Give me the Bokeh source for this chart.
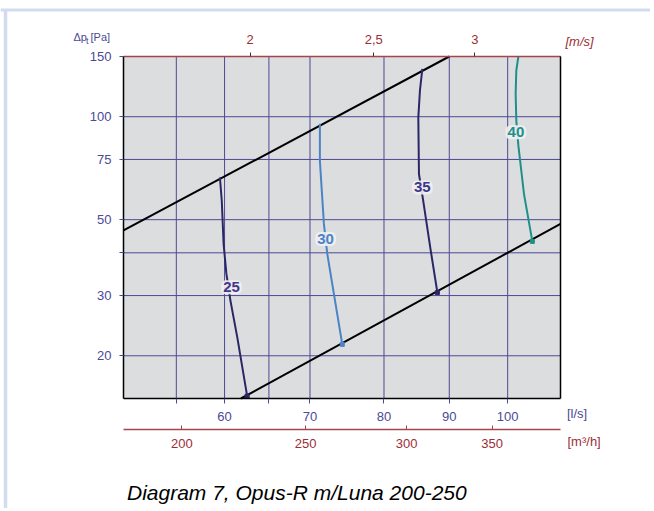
import math
from bokeh.plotting import figure
from bokeh.models import (LogAxis, FixedTicker, Range1d, LogScale, Label,
                          ColumnDataSource)
from bokeh.embed import file_html
from bokeh.resources import INLINE
from bokeh.core.properties import value

# ---- data -------------------------------------------------------------
q_range = [50, 110]            # air flow [l/s]
p_range = [15, 150]            # total pressure drop [Pa]
duct_diameter = 0.2            # m (velocity axis)

q_ticks = [55, 60, 65, 70, 80, 90, 100]
q_labels = ["", "60", "", "70", "80", "90", "100"]
m3h_ticks = [200, 250, 300, 350]
m3h_labels = ["200", "250", "300", "350"]
v_ticks = [2, 2.5, 3]
v_labels = ["2", "2,5", "3"]
p_ticks = [20, 30, 40, 50, 75, 100, 150]
p_labels = ["20", "30", "", "50", "75", "100", "150"]

upper_q = [50, 90]
upper_p = [46.5, 150]
lower_q = [61.8, 110]
lower_p = [15, 48.6]

c25_q = [59.5, 59.7, 59.9, 60.2, 60.65, 61.4, 62.5]
c25_p = [66.5, 56.8, 42.4, 34.7, 28.9, 22.6, 15.25]
c30_q = [71.26, 71.26, 71.78, 72.22, 73.09, 74.2]
c30_p = [95.3, 74.4, 48.6, 39.7, 30.3, 21.6]
c35_q = [85.73, 85.36, 85.11, 85.21, 85.82, 87.04, 88.09]
c35_p = [138.1, 119.3, 99.6, 68.0, 57.5, 40.6, 30.6]
c40_q = [101.95, 101.57, 101.45, 101.57, 101.95, 102.99, 104.55]
c40_p = [150, 136.5, 116.7, 97.4, 82.3, 59.4, 43.2]

label_text = ["25", "30", "35", "40"]
label_q = [60.76, 72.0, 85.73, 101.5]
label_p = [31.7, 43.9, 62.1, 90.0]

# ---- layout (pixels) --------------------------------------------------
W, H = 650, 508
PX_L, PX_R, PX_T, PX_B = 123, 560, 56, 398     # chart area inside canvas
kx = (PX_R - PX_L) / math.log(q_range[1] / q_range[0])
ky = (PX_B - PX_T) / math.log(p_range[1] / p_range[0])
q_lo = q_range[0] * math.exp(-PX_L / kx)
q_hi = q_range[1] * math.exp((W - PX_R) / kx)
p_hi = p_range[1] * math.exp(PX_T / ky)
p_lo = p_range[0] * math.exp(-(H - PX_B) / ky)

# ---- styles -----------------------------------------------------------
FONT = "Liberation Sans"
NAVY = "#4b4a95"
RED = "#9c2e36"
RED_LINE = "#a3454f"
DARK = "#2a2766"
BLUE = "#4a84c6"
TEAL = "#1f8f8a"
FRAME = "#d3dbef"
curve_colors = [DARK, BLUE, DARK, TEAL]
label_colors = ["#46378a", BLUE, "#3b3888", TEAL]

area_l = math.pi * (duct_diameter / 2) ** 2 * 1000  # litres per metre

p = figure(x_axis_type="log", y_axis_type="log",
           x_axis_location=None, y_axis_location=None,
           x_range=Range1d(q_lo, q_hi), y_range=Range1d(p_lo, p_hi),
           frame_width=W, frame_height=H,
           min_border=0, title=None,
           output_backend="svg", toolbar_location=None,
           background_fill_color="white", border_fill_color="white",
           outline_line_color=None)
for g in p.grid:
    g.visible = False

p.extra_x_ranges = {"m3h": Range1d(q_lo * 3.6, q_hi * 3.6),
                    "v": Range1d(q_lo / area_l, q_hi / area_l)}
p.extra_x_scales = {"m3h": LogScale(), "v": LogScale()}

# page frame decoration
p.line([q_lo * math.exp(5 / kx)] * 2,
       [p_hi * math.exp(-9 / ky), p_lo], line_color=FRAME, line_width=3.5)
p.line([q_lo, q_hi], [p_hi * math.exp(-9.5 / ky)] * 2,
       line_color=FRAME, line_width=3)

# chart background and grid
p.quad(left=[q_range[0]], right=[q_range[1]], bottom=[p_range[0]],
       top=[p_range[1]], fill_color="#dcdddf", line_color=None)
p.segment(x0=q_ticks, x1=q_ticks, y0=[p_range[0]] * len(q_ticks),
          y1=[p_range[1]] * len(q_ticks), line_color=NAVY, line_width=1)
p.segment(x0=[q_range[0]] * len(p_ticks), x1=[q_range[1]] * len(p_ticks),
          y0=p_ticks, y1=p_ticks, line_color=NAVY, line_width=1)

def style_axis(ax, color, text_color, tick_color, tick_out, tick_in, standoff):
    ax.axis_line_color = color
    ax.axis_line_width = 1.5
    ax.major_tick_line_color = tick_color
    ax.major_tick_out = tick_out
    ax.major_tick_in = tick_in
    ax.minor_tick_out = 0
    ax.minor_tick_in = 0
    ax.major_label_text_color = text_color
    ax.major_label_text_font = FONT
    ax.major_label_text_font_size = "13px"
    ax.major_label_standoff = standoff

# bottom l/s axis
xa = LogAxis(ticker=FixedTicker(ticks=q_ticks), fixed_location=p_range[0],
             bounds=tuple(q_range))
xa.major_label_overrides = dict(zip(q_ticks, q_labels))
style_axis(xa, "black", NAVY, NAVY, 5, 0, 8)
p.add_layout(xa, "below")

# bottom m3/h axis
m3h_axis = LogAxis(x_range_name="m3h", ticker=FixedTicker(ticks=m3h_ticks),
                   fixed_location=p_range[0] * math.exp(-31 / ky),
                   bounds=(q_range[0] * 3.6, q_range[1] * 3.6))
m3h_axis.major_label_overrides = dict(zip(m3h_ticks, m3h_labels))
style_axis(m3h_axis, RED_LINE, RED, RED_LINE, 0, 4, 9)
p.add_layout(m3h_axis, "below")

# top velocity axis
v_axis = LogAxis(x_range_name="v", ticker=FixedTicker(ticks=v_ticks),
                 fixed_location=p_range[1],
                 bounds=(q_range[0] / area_l, q_range[1] / area_l))
v_axis.major_label_overrides = dict(zip(v_ticks, v_labels))
style_axis(v_axis, RED_LINE, RED, "#333333", 4, 0, 9)
p.add_layout(v_axis, "above")

# left pressure axis
ya = LogAxis(ticker=FixedTicker(ticks=p_ticks), fixed_location=q_range[0],
             bounds=tuple(p_range))
ya.major_label_overrides = dict(zip(p_ticks, p_labels))
style_axis(ya, "black", NAVY, NAVY, 4, 0, 8)
p.add_layout(ya, "left")

# right frame edge
r_axis = LogAxis(ticker=FixedTicker(ticks=[]), fixed_location=q_range[1],
                 bounds=tuple(p_range))
r_axis.axis_line_color = "black"
r_axis.axis_line_width = 1.5
r_axis.major_tick_out = 0
r_axis.minor_tick_out = 0
r_axis.major_label_text_font_size = "0px"
p.add_layout(r_axis, "right")

# system lines
p.line(upper_q, upper_p, line_color="black", line_width=2)
p.line(lower_q, lower_p, line_color="black", line_width=2)

# sound level curves
curves = [(c25_q, c25_p), (c30_q, c30_p), (c35_q, c35_p), (c40_q, c40_p)]
for (cq, cp), col in zip(curves, curve_colors):
    p.line(cq, cp, line_color=col, line_width=2)
    p.scatter([cq[-1]], [cp[-1]], marker="square", size=4,
              fill_color=col, line_color=col)

src = ColumnDataSource(dict(q=label_q, p=label_p, t=label_text, c=label_colors))
p.text(x="q", y="p", text="t", source=src, text_color="c",
       text_font=value(FONT), text_font_style="bold", text_font_size="15px",
       text_align="center", text_baseline="middle",
       background_fill_color="#efeff0", background_fill_alpha=0.9,
       padding=2, border_radius=5)

# axis unit labels (anchored at chart corners with pixel offsets)
def add_label(x, y, text, dx, dy, color, size, style="normal",
              baseline="middle"):
    p.add_layout(Label(x=x, y=y, text=text, x_offset=dx, y_offset=dy,
                       text_color=color, text_font=FONT,
                       text_font_size=size, text_font_style=style,
                       text_align="left", text_baseline=baseline))

add_label(q_range[0], p_range[1], "\u0394p", -50, 19.5, NAVY, "11px")
add_label(q_range[0], p_range[1], "t", -37.5, 15.5, NAVY, "9px")
add_label(q_range[0], p_range[1], "[Pa]", -33, 19.5, NAVY, "11px")
add_label(q_range[1], p_range[1], "[m/s]", 5, 15, RED, "13px", "italic")
add_label(q_range[1], p_range[0], "[l/s]", 6.5, -14.5, NAVY, "13px")
add_label(q_range[1], p_range[0], "[m\u00b3/h]", 7, -43, RED, "13px")
add_label(q_range[0], p_range[0], "Diagram 7, Opus-R m/Luna 200-250",
          3.5, -94, "black", "21px", "italic", "alphabetic")

open("out.html", "w").write(file_html(p, INLINE))
